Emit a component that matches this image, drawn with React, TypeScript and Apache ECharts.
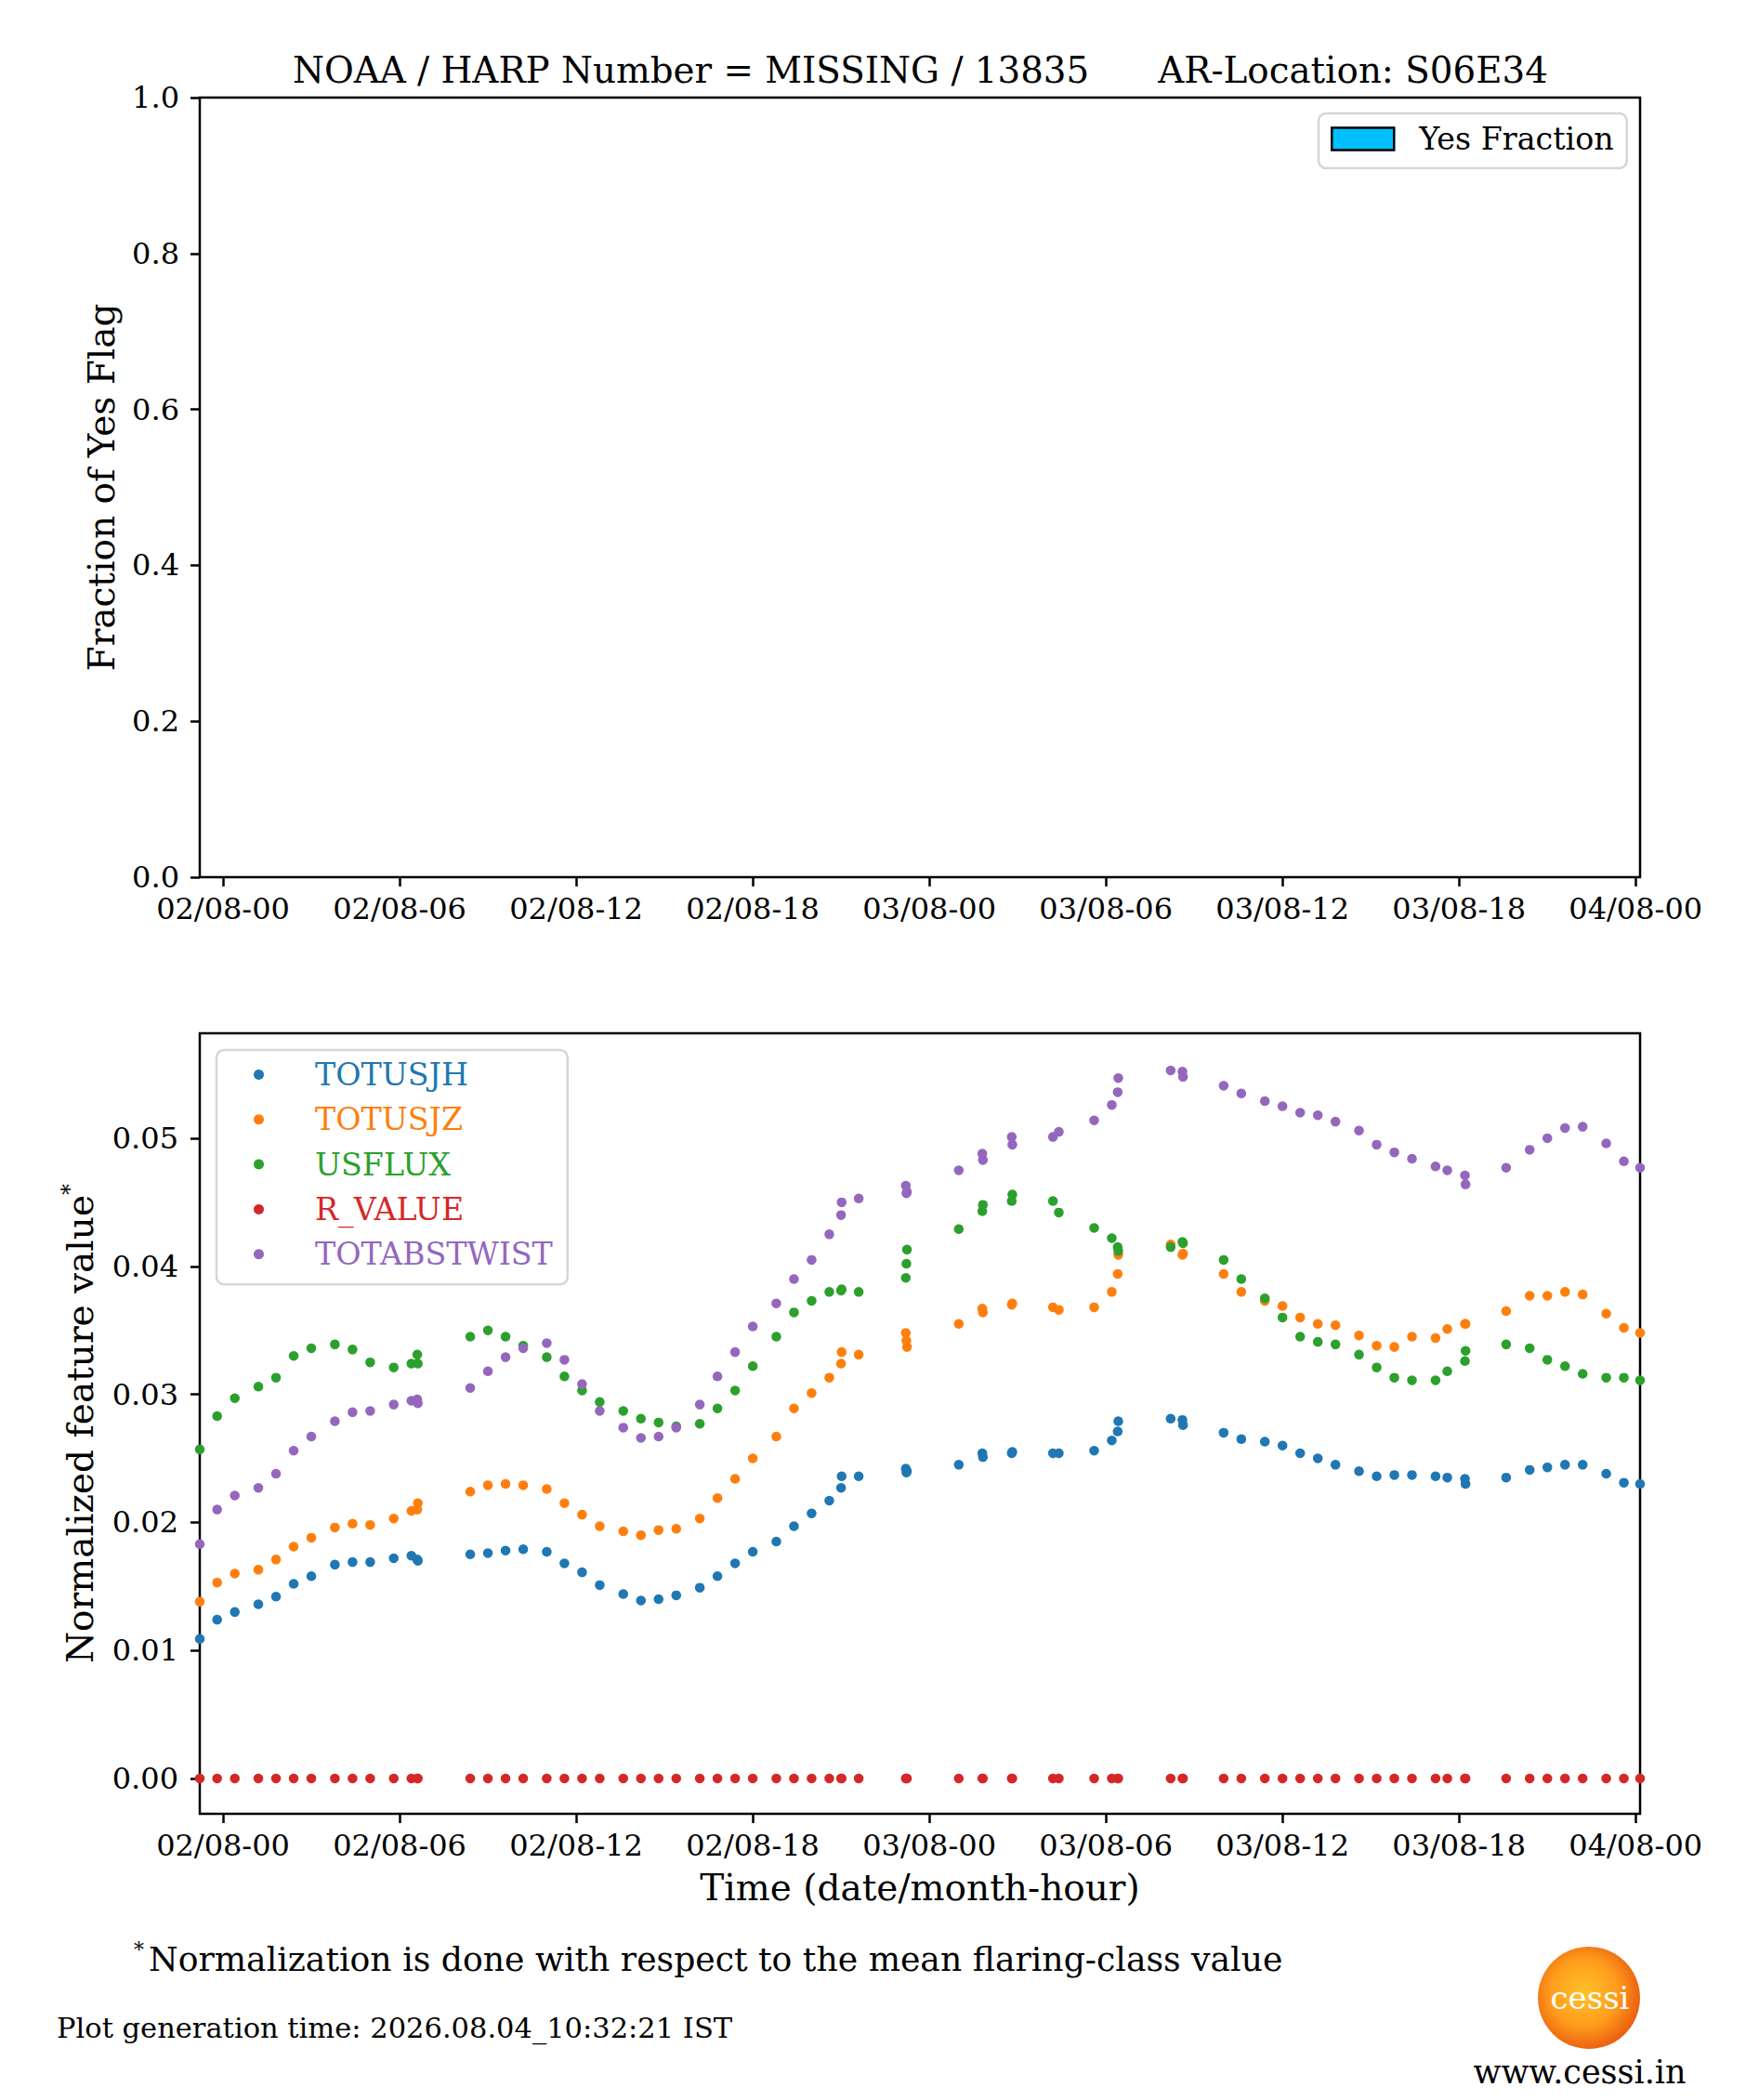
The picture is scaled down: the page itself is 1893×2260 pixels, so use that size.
import React, { useEffect, useRef } from 'react';
import * as echarts from 'echarts';

type EChartsOption = echarts.EChartsOption;

const FONT = '"DejaVu Serif", "Liberation Serif", serif';

// hours after 02/08 00:00
const hours = [
  -0.79, -0.2, 0.4, 1.2, 1.8, 2.4, 3.0, 3.8, 4.4, 5.0,
  5.8, 6.4, 6.6, 6.62, 8.4, 9.0, 9.6, 10.2, 11.0, 11.6,
  12.2, 12.8, 13.6, 14.2, 14.8, 15.4, 16.2, 16.8, 17.4, 18.0,
  18.8, 19.4, 20.0, 20.6, 21.0, 21.02, 21.6, 23.2, 23.22, 23.24,
  25.0, 25.8, 25.82, 26.8, 26.82, 28.2, 28.4, 29.6, 30.2, 30.4,
  30.42, 32.2, 32.6, 32.62, 34.0, 34.6, 35.4, 36.0, 36.6, 37.2,
  37.8, 38.6, 39.2, 39.8, 40.4, 41.2, 41.6, 42.2, 42.22, 43.6,
  44.4, 45.0, 45.6, 46.2, 47.0, 47.6, 48.15
];

const totusjh = [
  0.0109, 0.0124, 0.0130, 0.0136, 0.0142, 0.0152, 0.0158, 0.0167, 0.0169, 0.0169,
  0.0172, 0.0174, 0.0171, 0.0170, 0.0175, 0.0176, 0.0178, 0.0179, 0.0177, 0.0168,
  0.0161, 0.0151, 0.0144, 0.0139, 0.0140, 0.0143, 0.0149, 0.0158, 0.0168, 0.0177,
  0.0185, 0.0197, 0.0207, 0.0217, 0.0227, 0.0236, 0.0236, 0.0242, 0.0239, 0.0240,
  0.0245, 0.0254, 0.0251, 0.0254, 0.0255, 0.0254, 0.0254, 0.0256, 0.0264, 0.0271,
  0.0279, 0.0281, 0.0280, 0.0276, 0.0270, 0.0265, 0.0263, 0.0260, 0.0254, 0.0250,
  0.0245, 0.0240, 0.0236, 0.0237, 0.0237, 0.0236, 0.0235, 0.0234, 0.0230, 0.0235,
  0.0241, 0.0243, 0.0245, 0.0245, 0.0238, 0.0231, 0.0230
];

const totusjz = [
  0.0138, 0.0153, 0.0160, 0.0163, 0.0171, 0.0181, 0.0188, 0.0196, 0.0199, 0.0198,
  0.0203, 0.0209, 0.0210, 0.0215, 0.0224, 0.0229, 0.0230, 0.0229, 0.0226, 0.0215,
  0.0206, 0.0197, 0.0193, 0.0190, 0.0194, 0.0195, 0.0203, 0.0219, 0.0234, 0.0250,
  0.0267, 0.0289, 0.0301, 0.0313, 0.0324, 0.0333, 0.0331, 0.0348, 0.0342, 0.0337,
  0.0355, 0.0367, 0.0364, 0.0370, 0.0371, 0.0368, 0.0366, 0.0368, 0.0380, 0.0394,
  0.0409, 0.0417, 0.0409, 0.0410, 0.0394, 0.0380, 0.0373, 0.0369, 0.0360, 0.0355,
  0.0354, 0.0346, 0.0338, 0.0337, 0.0345, 0.0344, 0.0351, 0.0355, 0.0355, 0.0365,
  0.0377, 0.0377, 0.0380, 0.0378, 0.0363, 0.0352, 0.0348
];

const usflux = [
  0.0257, 0.0283, 0.0297, 0.0306, 0.0313, 0.0330, 0.0336, 0.0339, 0.0335, 0.0325,
  0.0321, 0.0324, 0.0331, 0.0324, 0.0345, 0.0350, 0.0345, 0.0338, 0.0329, 0.0314,
  0.0303, 0.0294, 0.0287, 0.0281, 0.0278, 0.0275, 0.0277, 0.0289, 0.0303, 0.0322,
  0.0345, 0.0364, 0.0373, 0.0380, 0.0381, 0.0382, 0.0380, 0.0391, 0.0402, 0.0413,
  0.0429, 0.0443, 0.0448, 0.0451, 0.0456, 0.0451, 0.0442, 0.0430, 0.0422, 0.0415,
  0.0412, 0.0415, 0.0419, 0.0418, 0.0405, 0.0390, 0.0375, 0.0360, 0.0345, 0.0341,
  0.0339, 0.0331, 0.0321, 0.0313, 0.0311, 0.0311, 0.0318, 0.0326, 0.0334, 0.0339,
  0.0336, 0.0327, 0.0322, 0.0316, 0.0313, 0.0313, 0.0311
];

const rValue = [
  0, 0, 0, 0, 0, 0, 0, 0, 0, 0,
  0, 0, 0, 0, 0, 0, 0, 0, 0, 0,
  0, 0, 0, 0, 0, 0, 0, 0, 0, 0,
  0, 0, 0, 0, 0, 0, 0, 0, 0, 0,
  0, 0, 0, 0, 0, 0, 0, 0, 0, 0,
  0, 0, 0, 0, 0, 0, 0, 0, 0, 0,
  0, 0, 0, 0, 0, 0, 0, 0, 0, 0,
  0, 0, 0, 0, 0, 0, 0
];

const totabstwist = [
  0.0183, 0.0210, 0.0221, 0.0227, 0.0238, 0.0256, 0.0267, 0.0279, 0.0286, 0.0287,
  0.0292, 0.0295, 0.0296, 0.0293, 0.0305, 0.0318, 0.0329, 0.0336, 0.0340, 0.0327,
  0.0308, 0.0287, 0.0274, 0.0266, 0.0267, 0.0274, 0.0292, 0.0314, 0.0333, 0.0353,
  0.0371, 0.0390, 0.0405, 0.0425, 0.0440, 0.0450, 0.0453, 0.0463, 0.0457, 0.0458,
  0.0475, 0.0488, 0.0483, 0.0501, 0.0495, 0.0501, 0.0505, 0.0514, 0.0526, 0.0536,
  0.0547, 0.0553, 0.0552, 0.0548, 0.0541, 0.0535, 0.0529, 0.0525, 0.0520, 0.0518,
  0.0513, 0.0506, 0.0495, 0.0489, 0.0484, 0.0478, 0.0475, 0.0471, 0.0464, 0.0477,
  0.0491, 0.0500, 0.0508, 0.0509, 0.0496, 0.0482, 0.0477
];

const seriesNames = ['TOTUSJH', 'TOTUSJZ', 'USFLUX', 'R_VALUE', 'TOTABSTWIST'];
const seriesColors = ['#1f77b4', '#ff7f0e', '#2ca02c', '#d62728', '#9467bd'];
const seriesValues = [totusjh, totusjz, usflux, rValue, totabstwist];

const xTickHours = [0, 6, 12, 18, 24, 30, 36, 42, 48];
const xTickLabels = ['02/08-00', '02/08-06', '02/08-12', '02/08-18', '03/08-00', '03/08-06', '03/08-12', '03/08-18', '04/08-00'];
const topYTicks = [0, 0.2, 0.4, 0.6, 0.8, 1.0];
const bottomYTicks = [0, 0.01, 0.02, 0.03, 0.04, 0.05];

const tickLine = { color: '#000', width: 2.5 };

function xAxisFor(gridIndex: number, extra: any = {}) {
  return {
    type: 'value',
    gridIndex,
    min: hours[0],
    max: hours[hours.length - 1],
    axisLine: { show: false, onZero: false },
    splitLine: { show: false },
    axisTick: { show: true, length: 10, lineStyle: tickLine, customValues: xTickHours },
    axisLabel: {
      customValues: xTickHours,
      formatter: (v: number) => {
        const i = xTickHours.findIndex((h) => Math.abs(h - v) < 1e-6);
        return i >= 0 ? xTickLabels[i] : '';
      },
      fontSize: 32,
      fontFamily: FONT,
      color: '#000',
      margin: 18
    },
    ...extra
  };
}

const App: React.FC = () => {
  const chartRef = useRef<HTMLDivElement>(null);

  useEffect(() => {
    document.body.style.margin = '0';
    if (!chartRef.current) return;
    const myChart = echarts.init(chartRef.current, undefined, { renderer: 'svg' });

    const scatterSeries = seriesNames.map((name, k) => ({
      type: 'scatter',
      name,
      xAxisIndex: 1,
      yAxisIndex: 1,
      symbolSize: 10.5,
      itemStyle: { color: seriesColors[k], opacity: 1 },
      data: hours.map((h, i) => [h, seriesValues[k][i]])
    }));

    const legendText = { fontSize: 33.3, fontFamily: FONT, lineHeight: 33 };

    const option: EChartsOption = {
      animation: false,
      backgroundColor: '#fff',
      textStyle: { fontFamily: FONT },
      grid: [
        { left: 215, top: 105, width: 1550, height: 839, show: true, borderColor: '#000', borderWidth: 2.5, backgroundColor: 'transparent' },
        { left: 215, top: 1112, width: 1550, height: 840, show: true, borderColor: '#000', borderWidth: 2.5, backgroundColor: 'transparent' }
      ],
      xAxis: [
        xAxisFor(0),
        xAxisFor(1, {
          name: 'Time (date/month-hour)',
          nameLocation: 'middle',
          nameGap: 60,
          nameTextStyle: { fontSize: 39, fontFamily: FONT, color: '#000' }
        })
      ] as any,
      yAxis: [
        {
          type: 'value',
          gridIndex: 0,
          min: 0,
          max: 1,
          interval: 0.2,
          axisLine: { show: false, onZero: false },
          splitLine: { show: false },
          axisTick: { show: true, length: 10, lineStyle: tickLine, customValues: topYTicks },
          axisLabel: {
            customValues: topYTicks,
            formatter: (v: number) => v.toFixed(1),
            fontSize: 32,
            fontFamily: FONT,
            color: '#000',
            margin: 22
          },
          name: 'Fraction of Yes Flag',
          nameLocation: 'middle',
          nameGap: 86,
          nameTextStyle: { fontSize: 39, fontFamily: FONT, color: '#000' }
        },
        {
          type: 'value',
          gridIndex: 1,
          min: -0.00276,
          max: 0.0582,
          axisLine: { show: false, onZero: false },
          splitLine: { show: false },
          axisTick: { show: true, length: 10, lineStyle: tickLine, customValues: bottomYTicks },
          axisLabel: {
            customValues: bottomYTicks,
            formatter: (v: number) => v.toFixed(2),
            fontSize: 32,
            fontFamily: FONT,
            color: '#000',
            margin: 23
          },
          name: '{a|Normalized feature value}{s|*}',
          nameLocation: 'middle',
          nameGap: 106,
          nameTextStyle: {
            fontSize: 39,
            fontFamily: FONT,
            color: '#000',
            rich: {
              a: { fontSize: 39, fontFamily: FONT, color: '#000', lineHeight: 46 },
              s: { fontSize: 24, fontFamily: FONT, color: '#000', verticalAlign: 'top', lineHeight: 46 }
            }
          }
        }
      ] as any,
      legend: [
        {
          data: [
            {
              name: 'Yes Fraction',
              icon: 'rect',
              itemStyle: { color: '#00BFFF', borderColor: '#000', borderWidth: 2.5 }
            }
          ],
          orient: 'vertical',
          left: 1419,
          top: 122,
          itemWidth: 67,
          itemHeight: 24,
          padding: [11, 14, 15, 13],
          borderColor: '#d6d6d6',
          borderWidth: 2.5,
          borderRadius: 8,
          backgroundColor: 'rgba(255,255,255,0.8)',
          selectedMode: false,
          textStyle: { ...legendText, color: '#000', padding: [0, 0, 0, 22] }
        },
        {
          data: seriesNames.map((n, i) => ({
            name: n,
            icon: 'circle',
            textStyle: { ...legendText, color: seriesColors[i], padding: [0, 0, 0, 50] }
          })),
          orient: 'vertical',
          left: 233,
          top: 1130,
          itemWidth: 11,
          itemHeight: 11,
          itemGap: 15.3,
          padding: [10, 16, 16, 40],
          borderColor: '#d6d6d6',
          borderWidth: 2.5,
          borderRadius: 8,
          backgroundColor: 'rgba(255,255,255,0.8)',
          selectedMode: false,
          textStyle: { ...legendText, padding: [0, 0, 0, 50] }
        }
      ] as any,
      graphic: [
        {
          type: 'text',
          x: 315,
          y: 75,
          style: {
            text: 'NOAA / HARP Number = MISSING / 13835\u00a0\u00a0\u00a0\u00a0\u00a0\u00a0AR-Location: S06E34',
            fontSize: 38.8,
            fontFamily: FONT,
            fill: '#000',
            textAlign: 'left',
            textVerticalAlign: 'middle'
          }
        },
        {
          type: 'text',
          x: 144,
          y: 2108,
          style: {
            text: '{s|*}{n|Normalization is done with respect to the mean flaring-class value}',
            fontFamily: FONT,
            fill: '#000',
            textAlign: 'left',
            textVerticalAlign: 'middle',
            rich: {
              s: { fontSize: 22, fontFamily: FONT, fill: '#000', verticalAlign: 'top', lineHeight: 42, padding: [0, 5, 0, 0] },
              n: { fontSize: 36.2, fontFamily: FONT, fill: '#000', lineHeight: 42 }
            }
          } as any
        },
        {
          type: 'text',
          x: 61,
          y: 2182,
          style: {
            text: 'Plot generation time: 2026.08.04_10:32:21 IST',
            fontSize: 30.5,
            fontFamily: FONT,
            fill: '#000',
            textAlign: 'left',
            textVerticalAlign: 'middle'
          }
        },
        {
          type: 'circle',
          shape: { cx: 1710, cy: 2150, r: 55 },
          style: {
            fill: new echarts.graphic.RadialGradient(0.45, 0.45, 0.6, [
              { offset: 0, color: '#ffc229' },
              { offset: 0.55, color: '#ff9c1c' },
              { offset: 1, color: '#e8550d' }
            ])
          }
        },
        {
          type: 'text',
          x: 1711,
          y: 2150,
          style: {
            text: 'cessi',
            fontSize: 34,
            fontFamily: FONT,
            fill: '#fff',
            textAlign: 'center',
            textVerticalAlign: 'middle'
          }
        },
        {
          type: 'text',
          x: 1700,
          y: 2230,
          style: {
            text: 'www.cessi.in',
            fontSize: 35,
            fontFamily: FONT,
            fill: '#000',
            textAlign: 'center',
            textVerticalAlign: 'middle'
          }
        }
      ] as any,
      series: [
        {
          type: 'bar',
          name: 'Yes Fraction',
          xAxisIndex: 0,
          yAxisIndex: 0,
          data: [],
          itemStyle: { color: '#00BFFF', borderColor: '#000', borderWidth: 2.5 }
        },
        ...scatterSeries
      ] as any
    };

    myChart.setOption(option);

    return () => {
      myChart.dispose();
    };
  }, []);

  return <div ref={chartRef} style={{ width: '1893px', height: '2260px' }} />;
};

export default App;
